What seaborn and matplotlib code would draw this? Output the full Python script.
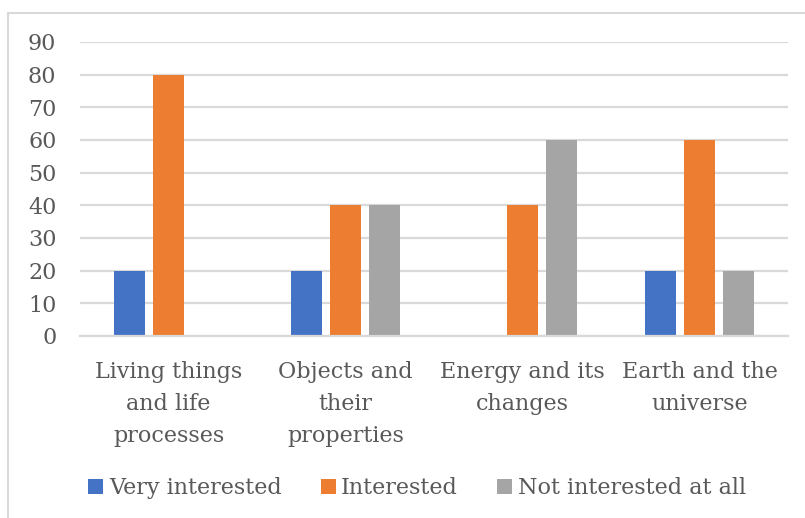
import matplotlib
matplotlib.use("Agg")
import matplotlib.pyplot as plt
from matplotlib.lines import Line2D
import seaborn as sns
import pandas as pd

categories = ["Living things\nand life\nprocesses", "Objects and\ntheir\nproperties",
              "Energy and its\nchanges", "Earth and the\nuniverse"]
series_names = ["Very interested", "Interested", "Not interested at all"]
very_interested = [20, 20, 0, 20]
interested = [80, 40, 40, 60]
not_interested = [0, 40, 60, 20]
y_ticks = [0, 10, 20, 30, 40, 50, 60, 70, 80, 90]

colors = ["#4472C4", "#ED7D31", "#A5A5A5"]
text_color = "#595959"
grid_color = "#D9D9D9"

rows = []
for name, vals in zip(series_names, [very_interested, interested, not_interested]):
    for cat, v in zip(categories, vals):
        rows.append({"category": cat, "series": name, "value": v})
df = pd.DataFrame(rows)

sns.set_theme(style="white")
plt.rcParams["font.family"] = ["DejaVu Serif"]

fig = plt.figure(figsize=(8.05, 5.18), dpi=100)
ax = fig.add_axes([80 / 805, 1 - 336 / 518, 708 / 805, 294 / 518])

sns.barplot(data=df, x="category", y="value", hue="series", order=categories,
            hue_order=series_names, palette=colors, width=0.66, gap=0.2,
            linewidth=0, saturation=1, ax=ax, legend=True)

ax.set_ylim(0, 90)
ax.set_xlim(-0.5, 3.5)
ax.set_yticks(y_ticks)
ax.yaxis.grid(True, color=grid_color, linewidth=1.6)
ax.set_axisbelow(True)
for s in ["top", "right", "left"]:
    ax.spines[s].set_visible(False)
ax.spines["bottom"].set_color(grid_color)
ax.spines["bottom"].set_linewidth(1.6)
ax.set_xlabel("")
ax.set_ylabel("")
ax.tick_params(axis="y", length=0, pad=17, labelsize=16, labelcolor=text_color)
ax.tick_params(axis="x", length=0, pad=18, labelsize=16, labelcolor=text_color)
for lbl in ax.get_xticklabels():
    lbl.set_linespacing(1.6)

handles, labels = ax.get_legend_handles_labels()
ax.get_legend().remove()
fig.legend(handles, labels, loc="center", bbox_to_anchor=(417 / 805, 1 - 488 / 518),
           ncol=3, frameon=False, fontsize=16, labelcolor=text_color,
           handlelength=0.68, handleheight=0.68, handletextpad=0.25,
           columnspacing=1.75)

# outer chart frame
fig.add_artist(Line2D([8 / 805, 1.0], [1 - 13 / 518, 1 - 13 / 518],
                      color=grid_color, linewidth=1.5, transform=fig.transFigure))
fig.add_artist(Line2D([8 / 805, 8 / 805], [0.0, 1 - 13 / 518],
                      color=grid_color, linewidth=1.5, transform=fig.transFigure))

fig.savefig("out.png", dpi=100)
